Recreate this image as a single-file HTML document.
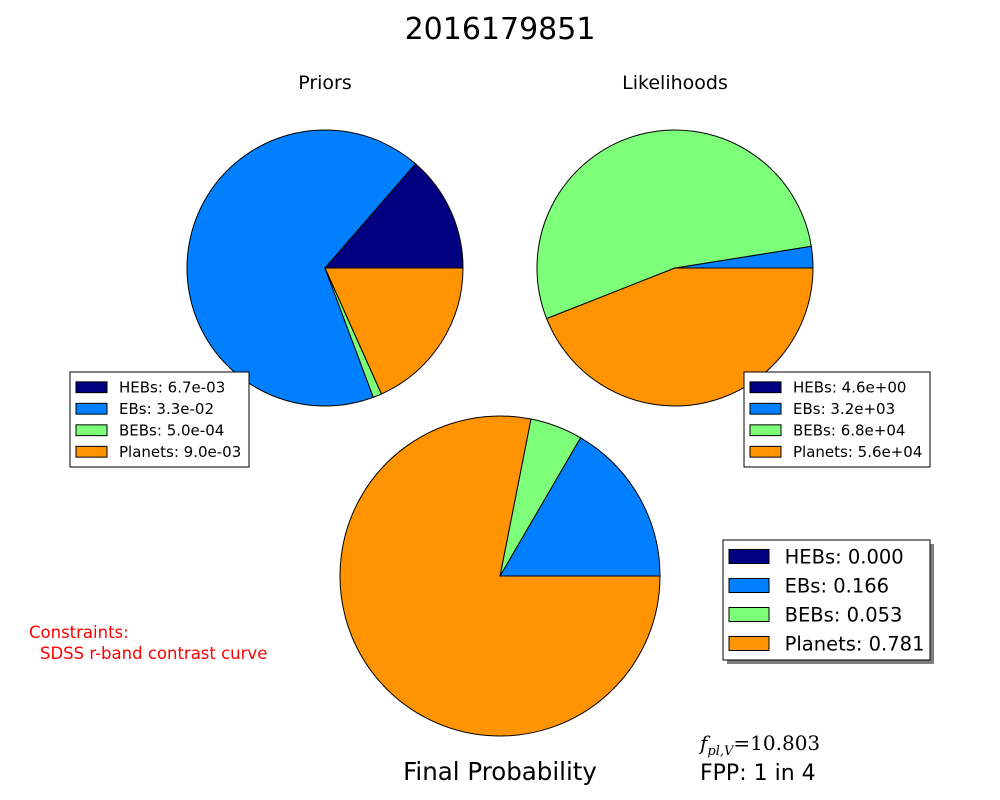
<!DOCTYPE html>
<html><head><meta charset="utf-8"><style>
body{margin:0;background:#fff;}
svg{display:block;font-family:"DejaVu Sans","Liberation Sans",sans-serif;}
</style></head><body>
<svg id="chart" width="1000" height="800" viewBox="0 0 1000 800" xmlns="http://www.w3.org/2000/svg">
<rect width="1000" height="800" fill="#fff"/>
<text x="500" y="39" font-size="30" text-anchor="middle">2016179851</text>
<text x="325" y="89" font-size="19" text-anchor="middle">Priors</text>
<text x="675" y="89" font-size="19" text-anchor="middle">Likelihoods</text>
<text x="500" y="780" font-size="24.5" text-anchor="middle">Final Probability</text>
<text x="700" y="780" font-size="22">FPP: 1 in 4</text>
<text x="700" y="750" font-size="20" font-family="'DejaVu Serif','Liberation Serif',serif"><tspan font-style="italic">f</tspan><tspan font-size="13" font-style="italic" dy="5">pl,V</tspan><tspan dy="-5">=10.803</tspan></text>
<text x="29" y="638" font-size="16.5" fill="#ff0000">Constraints:</text>
<text x="40" y="659" font-size="16.5" fill="#ff0000">SDSS r-band contrast curve</text>
<g id="pies"></g>
<g id="legends"></g>
</svg>
<script>
const categories = ["HEBs","EBs","BEBs","Planets"];
const priorValues = [6.7e-3, 3.3e-2, 5.0e-4, 9.0e-3];
const priorLabels = ["6.7e-03","3.3e-02","5.0e-04","9.0e-03"];
const likelihoodValues = [4.6, 3200, 68000, 56000];
const likelihoodLabels = ["4.6e+00","3.2e+03","6.8e+04","5.6e+04"];
const finalValues = [0.000, 0.166, 0.053, 0.781];
const finalLabels = ["0.000","0.166","0.053","0.781"];
const colors = ["#000080","#0080ff","#7dff7a","#ff9400"];
const NS="http://www.w3.org/2000/svg";
const pies=document.getElementById('pies');
const legends=document.getElementById('legends');
function pie(vals,cx,cy,r,name){
  const g=document.createElementNS(NS,'g');
  
  
  const tot=vals.reduce((a,b)=>a+b,0);
  let a0=0;
  vals.forEach((v,i)=>{
    const frac=v/tot; if(frac<=0)return;
    const a1=a0+frac*2*Math.PI;
    const x0=cx+r*Math.cos(a0),y0=cy-r*Math.sin(a0);
    const x1=cx+r*Math.cos(a1),y1=cy-r*Math.sin(a1);
    const large=(a1-a0)>Math.PI?1:0;
    const p=document.createElementNS(NS,'path');
    let d;
    if(frac>=0.9999) d=`M${cx+r},${cy} A${r},${r} 0 1 0 ${cx-r},${cy} A${r},${r} 0 1 0 ${cx+r},${cy} Z`;
    else d=`M${cx},${cy} L${x0},${y0} A${r},${r} 0 ${large} 0 ${x1},${y1} Z`;
    p.setAttribute('d',d);
    p.setAttribute('fill',colors[i]);
    p.setAttribute('stroke','#000');
    p.setAttribute('stroke-width','1');
    
    
    g.appendChild(p);
    a0=a1;
  });
  pies.appendChild(g);
}
function legend(labels,x,y,w,h,fs,rowH,sw,name,shadow){
  const g=document.createElementNS(NS,'g');
  
  
  if(shadow){const s=document.createElementNS(NS,'rect');
    s.setAttribute('x',x+4);s.setAttribute('y',y+4);s.setAttribute('width',w);s.setAttribute('height',h);s.setAttribute('fill','#808080');g.appendChild(s);}
  const b=document.createElementNS(NS,'rect');
  b.setAttribute('x',x);b.setAttribute('y',y);b.setAttribute('width',w);b.setAttribute('height',h);
  b.setAttribute('fill','#fff');b.setAttribute('stroke','#000');g.appendChild(b);
  const sh=fs*0.72;
  categories.forEach((c,i)=>{
    const cy=y+rowH*0.5+ (h-rowH*4)/2 + i*rowH;
    const r=document.createElementNS(NS,'rect');
    r.setAttribute('x',x+6);r.setAttribute('y',cy-sh/2);r.setAttribute('width',sw);r.setAttribute('height',sh);
    r.setAttribute('fill',colors[i]);r.setAttribute('stroke','#000');
    
    
    g.appendChild(r);
    const t=document.createElementNS(NS,'text');
    t.setAttribute('x',x+6+sw+fs*0.8);t.setAttribute('y',cy+fs*0.36);t.setAttribute('font-size',fs);
    t.textContent=c+': '+labels[i];
    
    
    g.appendChild(t);
  });
  legends.appendChild(g);
}
pie(priorValues,325,268,138,'priors-pie');
pie(likelihoodValues,675,268,138,'likelihoods-pie');
pie(finalValues,500,576,160,'final-pie');
legend(priorLabels,70,372,179,95,15,21.5,31,'priors-legend',false);
legend(likelihoodLabels,744,372,186,95,15,21.5,31,'likelihoods-legend',false);
legend(finalLabels,723,540,207,120,19.5,29,40,'final-legend',true);
</script>
</body></html>
